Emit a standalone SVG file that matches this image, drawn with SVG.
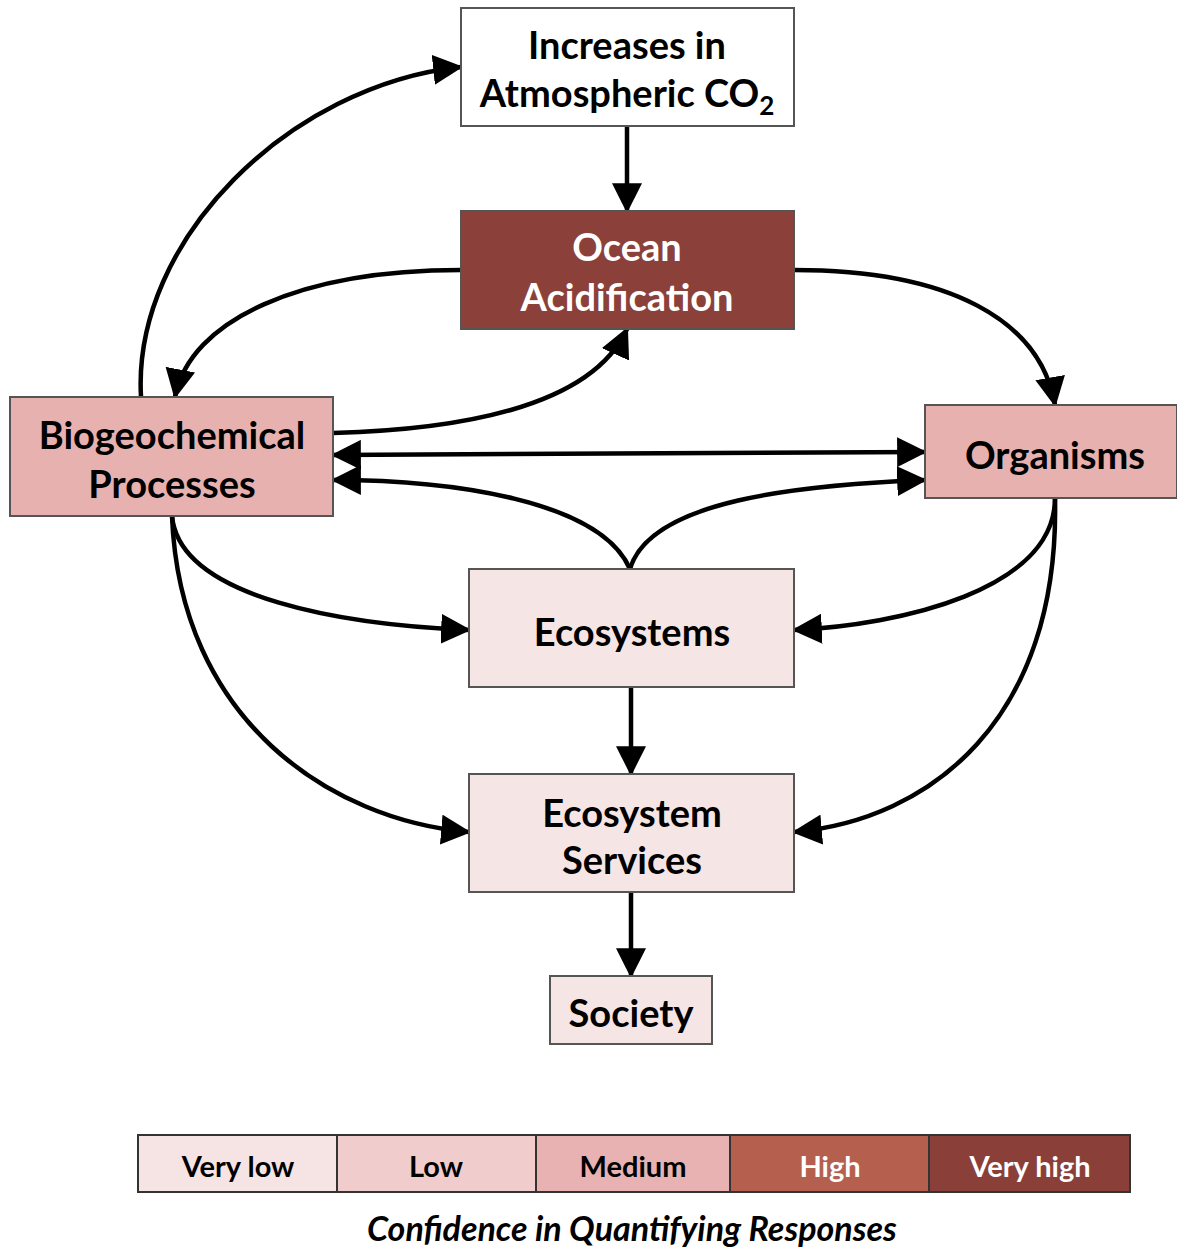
<svg xmlns="http://www.w3.org/2000/svg" width="1177" height="1249" viewBox="0 0 1177 1249">
<defs>
<marker id="ah" markerUnits="userSpaceOnUse" markerWidth="30" markerHeight="30" viewBox="0 0 28 28" refX="26" refY="14" orient="auto-start-reverse">
<path d="M0,0 L28,14 L0,28 z" fill="#000"/>
</marker>
<style>
.node rect{stroke:#555;stroke-width:2}
text{font-family:Lato,"Open Sans","Liberation Sans",sans-serif;font-weight:bold;text-anchor:middle}
.t{font-size:38px;fill:#000}
.w{fill:#fff}
.conn path{fill:none;stroke:#000;stroke-width:4.5;marker-end:url(#ah)}
.leg rect{stroke:#333;stroke-width:2}
.lt{font-size:29px}
</style>
</defs>
<rect width="1177" height="1249" fill="#fff"/>
<g class="conn">
<path d="M627,126 L627,211"/>
<path d="M141,397 C132,240 290,85 461,67"/>
<path d="M461,270 C300,270 190,320 175,397"/>
<path d="M333,433 C450,430 590,410 627,329"/>
<path d="M794,270 C950,270 1040,320 1055,405"/>
<path d="M333,455 L925,452" style="marker-start:url(#ah)"/>
<path d="M630,569 C600,500 450,480 333,480"/>
<path d="M630,569 C650,500 800,485 925,480"/>
<path d="M172,516 C180,600 350,625 469,630"/>
<path d="M172,516 C180,720 330,820 469,832"/>
<path d="M1055,498 C1055,590 900,625 794,630"/>
<path d="M1055,498 C1060,720 930,820 794,832"/>
<path d="M631,687 L631,774"/>
<path d="M631,892 L631,976"/>
</g>
<g id="co2" class="node">
<rect x="461" y="8" width="333" height="118" fill="#fff"/>
<text class="t" x="627" y="59">Increases in</text>
<text class="t" x="627" y="107">Atmospheric CO<tspan font-size="26" dy="8">2</tspan></text>
</g>
<g id="oa" class="node">
<rect x="461" y="211" width="333" height="118" fill="#8B4139"/>
<text class="t w" x="627" y="261">Ocean</text>
<text class="t w" x="627" y="311">Acidification</text>
</g>
<g id="bio" class="node">
<rect x="10" y="397" width="323" height="119" fill="#E6B1AF"/>
<text class="t" x="172" y="449">Biogeochemical</text>
<text class="t" x="172" y="498">Processes</text>
</g>
<g id="org" class="node">
<rect x="925" y="405" width="252" height="93" fill="#E6B1AF"/>
<text class="t" x="1055" y="469">Organisms</text>
</g>
<g id="eco" class="node">
<rect x="469" y="569" width="325" height="118" fill="#F6E5E5"/>
<text class="t" x="632" y="646">Ecosystems</text>
</g>
<g id="ecs" class="node">
<rect x="469" y="774" width="325" height="118" fill="#F6E5E5"/>
<text class="t" x="632" y="827">Ecosystem</text>
<text class="t" x="632" y="874">Services</text>
</g>
<g id="soc" class="node">
<rect x="550" y="976" width="162" height="68" fill="#F6E5E5"/>
<text class="t" x="631" y="1027">Society</text>
</g>
<g id="legend" class="leg">
<rect x="138" y="1135" width="199" height="57" fill="#F6E4E4"/>
<rect x="337" y="1135" width="199" height="57" fill="#F0CDCC"/>
<rect x="536" y="1135" width="194" height="57" fill="#E7B2B1"/>
<rect x="730" y="1135" width="199" height="57" fill="#B5604F"/>
<rect x="929" y="1135" width="201" height="57" fill="#8A4038"/>
<text class="lt" x="238" y="1177">Very low</text>
<text class="lt" x="436" y="1177">Low</text>
<text class="lt" x="633" y="1177">Medium</text>
<text class="lt w" x="830" y="1177">High</text>
<text class="lt w" x="1030" y="1177">Very high</text>
<text x="632" y="1241" font-size="34" font-style="italic">Confidence in Quantifying Responses</text>
</g>
</svg>
